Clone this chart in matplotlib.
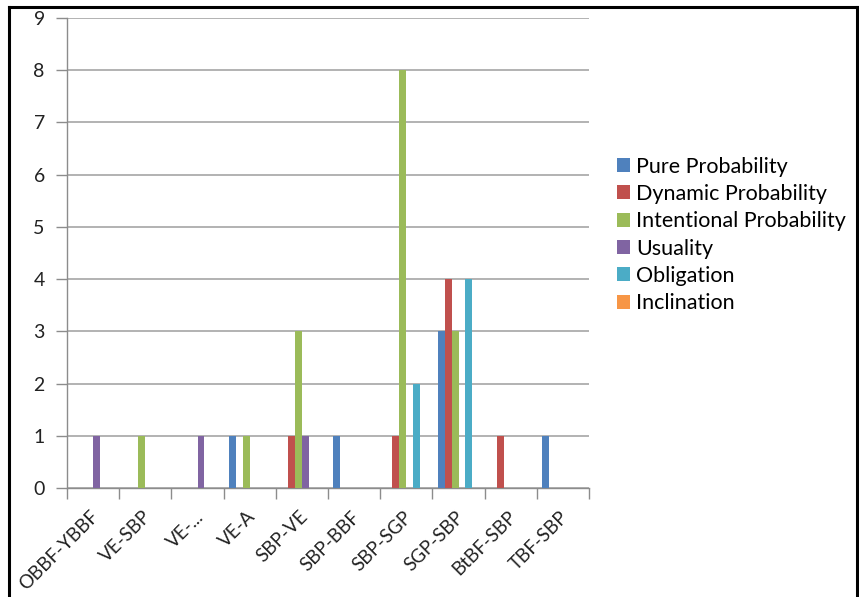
import numpy as np
import matplotlib.pyplot as plt
from matplotlib.lines import Line2D
import matplotlib.transforms as mtransforms

categories = ["OBBF-YBBF", "VE-SBP", "VE-...", "VE-A", "SBP-VE",
              "SBP-BBF", "SBP-SGP", "SGP-SBP", "BtBF-SBP", "TBF-SBP"]
series_names = ["Pure Probability", "Dynamic Probability", "Intentional Probability",
                "Usuality", "Obligation", "Inclination"]
pure = [0, 0, 0, 1, 0, 1, 0, 3, 0, 1]
dynamic = [0, 0, 0, 0, 1, 0, 1, 4, 1, 0]
intentional = [0, 1, 0, 1, 3, 0, 8, 3, 0, 0]
usuality = [1, 0, 1, 0, 1, 0, 0, 0, 0, 0]
obligation = [0, 0, 0, 0, 0, 0, 2, 4, 0, 0]
inclination = [0, 0, 0, 0, 0, 0, 0, 0, 0, 0]
colors = ["#4F81BD", "#C0504D", "#9BBB59", "#8064A2", "#4BACC6", "#F79646"]

plt.rcParams['font.family'] = ['Lato', 'DejaVu Sans']

fig = plt.figure(figsize=(8.59, 5.97), dpi=100)
W, H = 859.0, 597.0
ax = fig.add_axes([67 / W, 1 - 488 / H, (589 - 67) / W, (488 - 18) / H])

all_series = [pure, dynamic, intentional, usuality, obligation, inclination]
n = len(all_series)
bw = 1 / 7.5
x = np.arange(len(categories)) + 0.5
handles = []
for i, (vals, name, c) in enumerate(zip(all_series, series_names, colors)):
    offs = (i - (n - 1) / 2) * bw
    b = ax.bar(x + offs, vals, width=bw, color=c, label=name, zorder=3,
               linewidth=0)
    handles.append(b)

ax.set_xlim(0, len(categories))
ax.set_ylim(0, 9)
ax.set_yticks(range(10))
ax.yaxis.grid(True, color="#A6A6A6", linewidth=1.2, zorder=0)
for s in ["top", "right"]:
    ax.spines[s].set_visible(False)
for s in ["left", "bottom"]:
    ax.spines[s].set_color("#8C8C8C")
    ax.spines[s].set_linewidth(1.0)

ax.set_xticks(np.arange(len(categories) + 1))
ax.set_xticklabels([])
ax.tick_params(axis="both", which="major", direction="out", length=8,
               color="#8C8C8C", width=1.0)
ax.tick_params(axis="y", labelsize=14, pad=8, labelcolor="#222222")

# rotated category labels, right end anchored just below each group
offset = mtransforms.ScaledTranslation(0.03, -0.26, fig.dpi_scale_trans)
for xi, lab in zip(x, categories):
    ax.text(xi, 0, lab, transform=mtransforms.blended_transform_factory(
        ax.transData, ax.transAxes) + offset, rotation=45, ha="right",
        va="center", rotation_mode="anchor", fontsize=13.5, color="#222222")

fig.legend(handles=handles, labels=series_names, loc="upper left",
           bbox_to_anchor=(608 / W, 1 - 148 / H), frameon=False,
           fontsize=15.5, handlelength=0.62, handleheight=0.62,
           handletextpad=0.28, labelspacing=0.34, borderaxespad=0)

# outer frame
fig.add_artist(Line2D([8.5 / W, 856.5 / W], [1 - 6.5 / H, 1 - 6.5 / H],
                      color="black", linewidth=2.2, transform=fig.transFigure))
fig.add_artist(Line2D([8.5 / W, 8.5 / W], [0, 1 - 6.5 / H],
                      color="black", linewidth=2.2, transform=fig.transFigure))
fig.add_artist(Line2D([856.5 / W, 856.5 / W], [0, 1 - 6.5 / H],
                      color="black", linewidth=2.2, transform=fig.transFigure))

fig.savefig("out.png", dpi=100)
